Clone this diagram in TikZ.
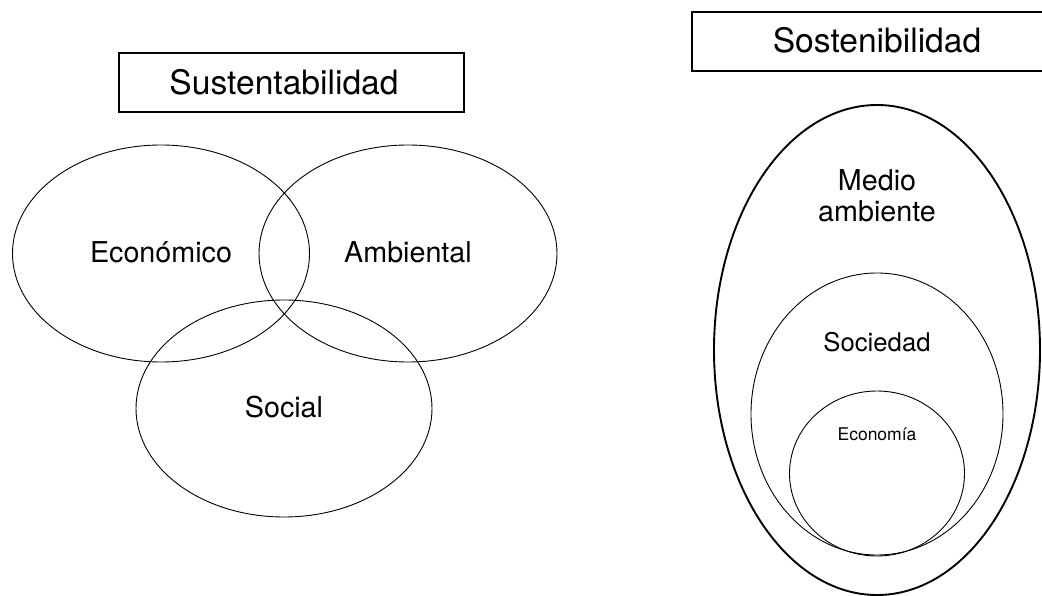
\documentclass[tikz,border=0pt]{standalone}
\usepackage{fontspec}
\setmainfont{TeX Gyre Heros}
\begin{document}
\begin{tikzpicture}[x=1pt,y=-1pt,
  thin ell/.style={draw=black,line width=0.9pt},
  thick ell/.style={draw=black,line width=1.9pt},
  titlebox/.style={draw=black,line width=1.4pt},
  lbl/.style={inner sep=0pt,anchor=base,text=black},
  big/.style={font=\fontsize{33.6}{38}\selectfont},
  mid/.style={font=\fontsize{28.7}{31.5}\selectfont},
]
\clip (0,0) rectangle (1042,596);
\fill[white] (0,0) rectangle (1042,596);

% Left: Sustentabilidad
\draw[titlebox] (119,53) rectangle (464,112);
\node[lbl,big] (tsus) at (284,95) {Sustentabilidad};

\draw[thin ell] (161,253.5) ellipse [x radius=148.5pt, y radius=108.5pt];
\draw[thin ell] (408,253.5) ellipse [x radius=149pt, y radius=108.5pt];
\draw[thin ell] (284,408.5) ellipse [x radius=148pt, y radius=108.5pt];
\node[lbl,mid] (eco) at (161,262.7) {Económico};
\node[lbl,mid] (amb) at (408,262.7) {Ambiental};
\node[lbl,mid] (soc) at (284,417) {Social};

% Right: Sostenibilidad
\draw[titlebox] (692,12) rectangle (1060,71);
\node[lbl,big] (tsos) at (877,53) {Sostenibilidad};

\draw[thick ell] (877,350) ellipse [x radius=163pt, y radius=245pt];
\draw[thin ell] (877,414) ellipse [x radius=126pt, y radius=141pt];
\draw[thin ell] (877,473.5) ellipse [x radius=87.5pt, y radius=82.5pt];
\node[lbl,mid,align=center] (med) at (877,222) {Medio\\ambiente};
\node[lbl,font=\fontsize{25.7}{30}\selectfont] (socd) at (877,351) {Sociedad};
\node[lbl,font=\fontsize{17.5}{20}\selectfont] (econ) at (877,440) {Economía};
\end{tikzpicture}
\end{document}
